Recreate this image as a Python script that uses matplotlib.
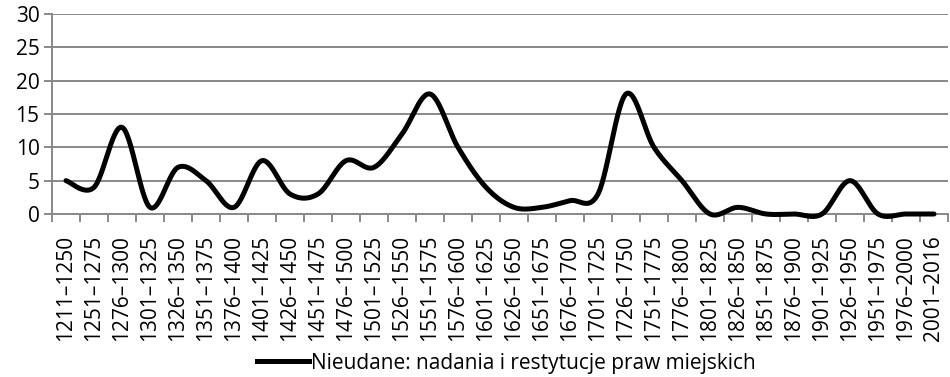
import numpy as np
import matplotlib
matplotlib.use("Agg")
import matplotlib.pyplot as plt
from matplotlib.lines import Line2D

plt.rcParams['font.family'] = ['Open Sans', 'DejaVu Sans']

periods = ["1211–1250", "1251–1275", "1276–1300", "1301–1325", "1326–1350",
           "1351–1375", "1376–1400", "1401–1425", "1426–1450", "1451–1475",
           "1476–1500", "1501–1525", "1526–1550", "1551–1575", "1576–1600",
           "1601–1625", "1626–1650", "1651–1675", "1676–1700", "1701–1725",
           "1726–1750", "1751–1775", "1776–1800", "1801–1825", "1826–1850",
           "1851–1875", "1876–1900", "1901–1925", "1926–1950", "1951–1975",
           "1976–2000", "2001–2016"]
failed = [5, 4, 13, 1, 7, 5, 1, 8, 3, 3, 8, 7, 12, 18, 10, 4, 1, 1, 2, 3,
          18, 10, 5, 0, 1, 0, 0, 0, 5, 0, 0, 0]
series_label = "Nieudane: nadania i restytucje praw miejskich"
y_ticks = [0, 5, 10, 15, 20, 25, 30]


def smooth(xs, ys, n=30):
    """Bezier smoothing through every point (control points at 1/6 of neighbour span)."""
    xs = np.asarray(xs, float)
    ys = np.asarray(ys, float)
    px = np.concatenate([[xs[0]], xs, [xs[-1]]])
    py = np.concatenate([[ys[0]], ys, [ys[-1]]])
    out_x, out_y = [], []
    t = np.linspace(0, 1, n)
    for i in range(1, len(px) - 2):
        p0 = np.array([px[i], py[i]])
        p3 = np.array([px[i + 1], py[i + 1]])
        c1 = p0 + (np.array([px[i + 1], py[i + 1]]) - np.array([px[i - 1], py[i - 1]])) / 6
        c2 = p3 - (np.array([px[i + 2], py[i + 2]]) - np.array([px[i], py[i]])) / 6
        b = ((1 - t) ** 3)[:, None] * p0 + (3 * (1 - t) ** 2 * t)[:, None] * c1 \
            + (3 * (1 - t) * t ** 2)[:, None] * c2 + (t ** 3)[:, None] * p3
        out_x.extend(b[:, 0])
        out_y.extend(b[:, 1])
    return np.array(out_x), np.array(out_y)


W, H = 950, 377
fig = plt.figure(figsize=(W / 100, H / 100), dpi=100)
ax = fig.add_axes([52 / W, 1 - 214 / H, (948 - 52) / W, 200 / H])

FS = 15
x = np.arange(len(periods))
sx, sy = smooth(x, failed)
ax.plot(sx, sy, color="black", lw=3.6, solid_capstyle="round", solid_joinstyle="round",
        zorder=3, clip_on=False)

grid_c = "#888888"
ax.set_xlim(-0.5, len(periods) - 0.5)
ax.set_ylim(0, 30)
ax.set_yticks(y_ticks)
ax.set_yticklabels([str(v) for v in y_ticks], fontsize=FS)
for v in y_ticks[1:]:
    ax.axhline(v, color=grid_c, lw=1.4, zorder=1)

ax.set_xticks(np.arange(-0.5, len(periods), 1.0))
ax.set_xticklabels([])
ax.set_xticks(x, minor=True)
ax.set_xticklabels(periods, minor=True, rotation=90, fontsize=FS)
ax.tick_params(axis="x", which="major", length=6, width=1.4, color=grid_c, direction="out")
ax.tick_params(axis="x", which="minor", length=0, pad=15)
ax.tick_params(axis="y", length=6, width=1.4, color=grid_c, direction="out", pad=3)

for s in ["top", "right"]:
    ax.spines[s].set_visible(False)
ax.spines["left"].set_color(grid_c)
ax.spines["left"].set_linewidth(1.4)
ax.spines["bottom"].set_color(grid_c)
ax.spines["bottom"].set_linewidth(1.4)

handle = Line2D([], [], color="black", lw=3.6)
fig.legend([handle], [series_label], loc="center", bbox_to_anchor=(506 / W, 1 - 363 / H),
           frameon=False, fontsize=15, handlelength=2.5, handletextpad=0.1,
           borderaxespad=0, borderpad=0)

fig.savefig("out.png", dpi=100)
